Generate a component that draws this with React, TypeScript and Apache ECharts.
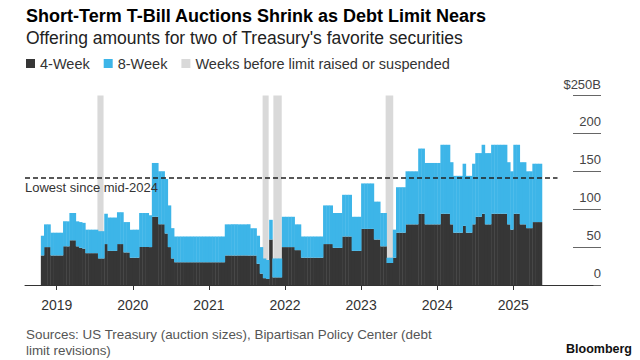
import React, { useEffect, useRef } from 'react';
import * as echarts from 'echarts';

// Half-month periods, first one = second half of October 2018
const FIRST_PERIOD = { year: 2018, month: 10, half: 2 };

// Offering amounts, $ billions, per half-month period
const FOUR_WEEK = [
  // 2018 (Oct b .. Dec b)
  39, 50, 50, 39, 39,
  // 2019
  39, 39, 51, 51, 59, 59, 51, 49, 48, 42, 42, 42, 42, 35, 35, 54, 45, 45, 45, 54, 54, 43, 43, 36,
  // 2020
  36, 36, 50, 50, 50, 50, 90, 90, 80, 80, 68, 50, 35, 30, 30, 30, 30, 30, 30, 30, 30, 30, 30, 30,
  // 2021
  30, 30, 30, 30, 30, 39, 39, 39, 39, 39, 39, 39, 39, 39, 39, 28, 15, 9, 8, 60, 10, 10, 10, 50,
  // 2022
  50, 50, 50, 46, 46, 36, 36, 36, 36, 36, 36, 36, 54, 54, 54, 49, 49, 49, 64, 64, 64, 45, 45, 45,
  // 2023
  74, 74, 74, 74, 60, 60, 51, 51, 29, 29, 36, 69, 69, 69, 80, 80, 80, 80, 94, 94, 80, 80, 80, 80,
  // 2024
  80, 94, 94, 94, 80, 69, 69, 69, 78, 69, 69, 80, 90, 90, 94, 80, 80, 94, 94, 94, 94, 94, 80, 73,
  // 2025 (Jan a .. May a)
  94, 94, 80, 80, 75, 75, 83, 83, 83,
];

const EIGHT_WEEK = [
  // 2018
  26, 30, 30, 30, 30,
  // 2019
  30, 30, 33, 33, 36, 36, 33, 34, 34, 31, 31, 31, 31, 36, 36, 40, 44, 44, 44, 42, 42, 40, 40, 37,
  // 2020
  37, 37, 45, 45, 45, 42, 71, 71, 70, 70, 72, 55, 40, 34, 34, 34, 34, 34, 34, 34, 34, 34, 34, 34,
  // 2021
  34, 34, 34, 34, 34, 41, 41, 41, 41, 41, 41, 41, 41, 36, 36, 37, 35, 26, 25, 26, 25, 25, 25, 40,
  // 2022
  40, 40, 40, 34, 34, 28, 28, 28, 28, 28, 28, 28, 51, 51, 51, 46, 46, 46, 55, 55, 55, 45, 45, 45,
  // 2023
  60, 60, 60, 60, 50, 50, 44, 44, 7, 7, 37, 60, 60, 60, 70, 70, 70, 70, 86, 86, 81, 81, 81, 81,
  // 2024
  81, 91, 91, 91, 82, 75, 75, 75, 82, 75, 75, 80, 84, 84, 91, 94, 94, 91, 91, 91, 91, 91, 82, 77,
  // 2025
  91, 91, 82, 82, 75, 75, 77, 77, 77,
];

const YEAR_TICKS = [2019, 2020, 2021, 2022, 2023, 2024, 2025];

// Weeks before the debt limit was raised or suspended
const DEBT_LIMIT_WINDOWS: [string, string][] = [
  ['2019-07-14', '2019-08-13'],
  ['2021-09-15', '2021-10-14'],
  ['2021-11-06', '2021-12-16'],
  ['2023-04-27', '2023-06-03'],
];

const LOWEST_LEVEL = 142;
const LOWEST_LABEL = 'Lowest since mid-2024';
const LOWEST_LINE_END = '2025-07-31';

const TITLE = 'Short-Term T-Bill Auctions Shrink as Debt Limit Nears';
const SUBTITLE = "Offering amounts for two of Treasury's favorite securities";
const SOURCE = 'Sources: US Treasury (auction sizes), Bipartisan Policy Center (debt\nlimit revisions)';

const FONT = '"Liberation Sans", Arial, Helvetica, sans-serif';
const BLACK = '#363636';
const BLUE = '#3db5e8';
const GRAY = '#d9d9d9';

function toYear(d: string): number {
  const [y, m, day] = d.split('-').map(Number);
  const dim = new Date(y, m, 0).getDate();
  return y + (m - 1) / 12 + ((day || 1) - 1) / (12 * dim);
}

function periodStart(i: number): number {
  const h = (FIRST_PERIOD.year - 2019) * 24 + (FIRST_PERIOD.month - 1) * 2 + (FIRST_PERIOD.half - 1) + i;
  return 2019 + h / 24;
}

const X_MIN = 2018.5834;
const X_MAX = 2026.047;

// rows: [start, end, fourWeek, eightWeek]
const rows = FOUR_WEEK.map((v, i) => [periodStart(i), periodStart(i + 1), v, EIGHT_WEEK[i]]);

function stackRect(api: any, lowIdx: number | null, highIdx: number, fill: string) {
  const x0 = api.value(0);
  const x1 = api.value(1);
  const low = lowIdx === null ? 0 : api.value(lowIdx);
  const high = low + api.value(highIdx);
  const p0 = api.coord([x0, high]);
  const p1 = api.coord([x1, low]);
  return {
    type: 'rect',
    shape: { x: p0[0], y: p0[1], width: p1[0] - p0[0] + 0.4, height: p1[1] - p0[1] },
    style: { fill },
  };
}

export default function App() {
  const ref = useRef<HTMLDivElement>(null);
  useEffect(() => {
    if (!ref.current) return;
    const chart = echarts.init(ref.current, undefined, { renderer: 'svg' });
    const option: any = {
      animation: false,
      textStyle: { fontFamily: FONT },
      title: {
        text: TITLE,
        subtext: SUBTITLE,
        left: 26,
        top: 5,
        padding: 0,
        itemGap: 0,
        textStyle: { fontSize: 18, fontWeight: 'bold', color: '#000', lineHeight: 22, fontFamily: FONT },
        subtextStyle: { fontSize: 17.5, color: '#222', lineHeight: 22, fontFamily: FONT },
      },
      legend: {
        left: 26,
        top: 56,
        padding: 0,
        icon: 'rect',
        itemWidth: 9,
        itemHeight: 9,
        itemGap: 14,
        selectedMode: false,
        textStyle: { fontSize: 14.5, color: '#333', fontFamily: FONT },
        data: [
          { name: '4-Week', itemStyle: { color: BLACK } },
          { name: '8-Week', itemStyle: { color: BLUE } },
          { name: 'Weeks before limit raised or suspended', itemStyle: { color: GRAY } },
        ],
      },
      grid: [
        { left: 25, right: 47, top: 95.5, bottom: 75 },
        { left: 573, width: 28, top: 95.5, bottom: 75 },
      ],
      xAxis: [
        {
          type: 'value',
          gridIndex: 0,
          min: X_MIN,
          max: X_MAX,
          splitLine: { show: false },
          axisLine: { show: true, lineStyle: { color: '#333', width: 1 } },
          axisTick: { show: true, customValues: YEAR_TICKS, length: 5, lineStyle: { color: '#333' } },
          axisLabel: {
            customValues: YEAR_TICKS,
            formatter: (v: number) => String(Math.round(v)),
            fontSize: 14,
            color: '#333',
            margin: 13,
          },
        },
        { type: 'value', gridIndex: 1, min: 0, max: 1, show: false },
      ],
      yAxis: [
        { type: 'value', gridIndex: 0, min: 0, max: 250, show: false },
        {
          type: 'value',
          gridIndex: 1,
          position: 'right',
          min: 0,
          max: 250,
          interval: 50,
          axisLine: { show: false },
          axisTick: { show: false },
          splitLine: { show: true, lineStyle: { color: '#666', width: 1 } },
          axisLabel: {
            inside: true,
            margin: 0,
            verticalAlign: 'bottom',
            padding: [0, 0, 5, 0],
            fontSize: 13,
            color: '#444',
            formatter: (v: number) => (v === 250 ? '$250B' : String(v)),
          },
        },
      ],
      series: [
        {
          name: 'Weeks before limit raised or suspended',
          type: 'custom',
          xAxisIndex: 0,
          yAxisIndex: 0,
          z: 1,
          silent: true,
          itemStyle: { color: GRAY },
          encode: { x: [0, 1], y: 2 },
          data: DEBT_LIMIT_WINDOWS.map(([a, b]) => [toYear(a), toYear(b), 250]),
          renderItem: (params: any, api: any) => {
            const p0 = api.coord([api.value(0), api.value(2)]);
            const p1 = api.coord([api.value(1), 0]);
            return {
              type: 'rect',
              shape: { x: p0[0], y: p0[1], width: p1[0] - p0[0], height: p1[1] - p0[1] },
              style: { fill: GRAY },
            };
          },
        },
        {
          name: '4-Week',
          type: 'custom',
          xAxisIndex: 0,
          yAxisIndex: 0,
          z: 3,
          silent: true,
          itemStyle: { color: BLACK },
          encode: { x: [0, 1], y: [2, 3] },
          data: rows,
          renderItem: (params: any, api: any) => stackRect(api, null, 2, BLACK),
          markLine: {
            silent: true,
            symbol: ['none', 'none'],
            lineStyle: { color: '#222', width: 1.5, type: [5, 3] },
            label: {
              show: true,
              position: 'insideStartBottom',
              formatter: LOWEST_LABEL,
              fontSize: 13,
              color: '#333',
              distance: [0, 4],
              fontFamily: FONT,
            },
            data: [[{ coord: [X_MIN, LOWEST_LEVEL] }, { coord: [toYear(LOWEST_LINE_END), LOWEST_LEVEL] }]],
          },
        },
        {
          name: '8-Week',
          type: 'custom',
          xAxisIndex: 0,
          yAxisIndex: 0,
          z: 3,
          silent: true,
          itemStyle: { color: BLUE },
          encode: { x: [0, 1], y: [2, 3] },
          data: rows,
          renderItem: (params: any, api: any) => stackRect(api, 2, 3, BLUE),
        },
      ],
      graphic: [
        {
          type: 'text',
          left: 26,
          top: 326,
          style: { text: SOURCE, font: `13.4px ${FONT}`, fill: '#555', lineHeight: 16 },
        },
        {
          type: 'text',
          right: 8,
          top: 342,
          style: { text: 'Bloomberg', font: `bold 12.5px ${FONT}`, fill: '#111' },
        },
      ],
    };
    chart.setOption(option);
    return () => chart.dispose();
  }, []);
  return (
    <div
      ref={ref}
      style={{ position: 'fixed', left: 0, top: 0, width: 640, height: 360, background: '#fff' }}
    />
  );
}
